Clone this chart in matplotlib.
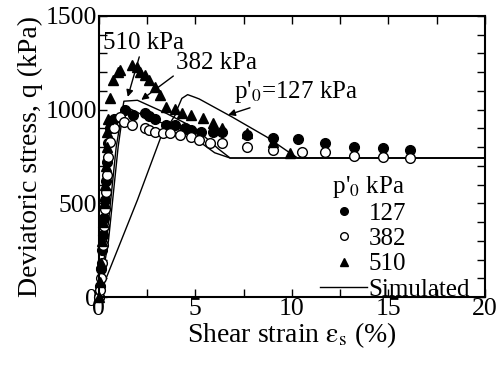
import numpy as np
import matplotlib.pyplot as plt
from matplotlib.lines import Line2D
from matplotlib.ticker import MultipleLocator

plt.rcParams['font.family'] = ['Liberation Serif', 'DejaVu Serif']
plt.rcParams['mathtext.fontset'] = 'stix'

# --------------------------------
# measured data (read off the figure)
# --------------------------------
x127 = [0.0, 0.05, 0.1, 0.15, 0.2, 0.25, 0.3, 0.35, 0.4, 0.5, 0.6, 0.8, 1.35, 1.76, 2.4, 2.6,
        2.9, 3.5, 3.95, 4.46, 4.8, 5.3, 5.9, 6.4, 7.7, 9.0, 10.3, 11.7, 13.2, 14.7, 16.1]
q127 = [0, 60, 150, 250, 330, 420, 520, 620, 720, 820, 900, 950, 998, 971, 982, 966,
        950, 918, 918, 902, 891, 881, 881, 881, 865, 849, 843, 822, 801, 796, 785]

x382 = [0.0, 0.05, 0.1, 0.15, 0.2, 0.25, 0.3, 0.35, 0.4, 0.5, 0.6, 0.8, 1.1, 1.3, 1.7, 2.4,
        2.6, 2.9, 3.3, 3.7, 4.2, 4.8, 5.2, 5.75, 6.4, 7.7, 9.0, 10.5, 11.7, 13.2, 14.7, 16.1]
q382 = [0, 40, 100, 180, 280, 380, 470, 560, 650, 750, 830, 900, 961, 934, 918, 902,
        891, 881, 875, 875, 865, 854, 838, 822, 822, 801, 785, 774, 774, 752, 750, 740]

x510 = [0.0, 0.05, 0.1, 0.15, 0.2, 0.25, 0.3, 0.35, 0.4, 0.45, 0.5, 0.6, 0.73, 0.98, 1.1, 1.7,
        1.97, 2.15, 2.4, 2.6, 2.9, 3.16, 3.5, 3.95, 4.3, 4.8, 5.4, 5.9, 6.4, 7.7, 9.0, 9.9]
q510 = [0, 80, 180, 300, 400, 500, 600, 700, 800, 880, 950, 1060, 1158, 1201, 1211, 1239,
        1228, 1201, 1185, 1158, 1121, 1079, 1014, 1004, 982, 971, 955, 929, 902, 875, 827, 769]

# simulated curves
xs127 = [0.0, 0.3, 2.0, 3.2, 3.95, 4.05, 4.3, 4.6, 5.0, 5.2, 6.9, 8.7, 9.9, 10.3, 20.0]
qs127 = [0, 80, 518, 850, 970, 1000, 1060, 1080, 1065, 1057, 961, 854, 769, 742, 742]

xs382 = [0.0, 0.5, 1.0, 1.3, 2.5, 4.0, 5.2, 6.0, 6.8, 20.0]
qs382 = [0, 300, 800, 1020, 960, 900, 830, 770, 742, 742]

xs510 = [0.0, 0.4, 0.9, 1.3, 2.0, 3.5, 5.0, 6.2, 6.8, 20.0]
qs510 = [0, 300, 800, 1045, 1050, 980, 900, 790, 742, 742]

fs = 20

# --------------------------------
# plot
# --------------------------------
fig = plt.figure(figsize=(4.99, 3.70), dpi=100)
ax = fig.add_axes([0.198, 0.197, 0.774, 0.760])

for xs, qs in [(xs127, qs127), (xs382, qs382), (xs510, qs510)]:
    ax.plot(xs, qs, color="black", lw=1.0)

ax.plot(x127, q127, "o", color="black", ms=7, mec="black", clip_on=False)
ax.plot(x382, q382, "o", color="white", ms=7, mec="black", mew=1.0, clip_on=False)
ax.plot(x510, q510, "^", color="black", ms=7.5, mec="black", clip_on=False)

arrow = dict(arrowstyle="-|>", color="black", lw=1.0, mutation_scale=10, shrinkA=0, shrinkB=0)
ax.annotate("510 kPa", xy=(1.5, 1068), xytext=(2.3, 1355), fontsize=18,
            ha="center", va="center", arrowprops=arrow)
ax.annotate("382 kPa", xy=(2.2, 1052), xytext=(6.1, 1249), fontsize=18,
            ha="center", va="center", arrowprops=dict(arrow, relpos=(0.0, 0.0)))
ax.annotate(r"p'$_0$=127 kPa", xy=(6.7, 972), xytext=(10.2, 1094), fontsize=18,
            ha="center", va="center", arrowprops=dict(arrow, relpos=(0.2, 0.0)))

ax.set_xlim(0, 20)
ax.set_ylim(0, 1500)
ax.xaxis.set_major_locator(MultipleLocator(5))
ax.xaxis.set_minor_locator(MultipleLocator(2.5))
ax.yaxis.set_major_locator(MultipleLocator(500))
ax.yaxis.set_minor_locator(MultipleLocator(100))
ax.tick_params(which="both", direction="in", top=True, right=True, labelsize=18.5, pad=1)
ax.tick_params(which="major", length=6, width=1.0)
ax.tick_params(which="minor", length=6, width=1.0)
for s in ax.spines.values():
    s.set_linewidth(1.5)

ax.set_xlabel(r"Shear strain $\mathrm{\varepsilon_s}$ (%)", fontsize=fs, labelpad=0)
ax.set_ylabel("Deviatoric stress, q (kPa)", fontsize=fs, labelpad=2)

handles = [Line2D([], [], ls="", marker="o", color="black", ms=5.5),
           Line2D([], [], ls="", marker="o", mfc="white", mec="black", ms=5.5),
           Line2D([], [], ls="", marker="^", color="black", ms=5.5),
           Line2D([], [], color="black", lw=1.0)]
ax.legend(handles, ["127", "382", "510", "Simulated"], title="\u2002p'$_0$ kPa",
          loc="lower right", bbox_to_anchor=(1.0, -0.066), frameon=False, fontsize=18,
          title_fontsize=18, handlelength=1.9, handletextpad=0.05, labelspacing=0.11,
          borderpad=0.1, alignment="left")

plt.savefig("out.png", dpi=100)
